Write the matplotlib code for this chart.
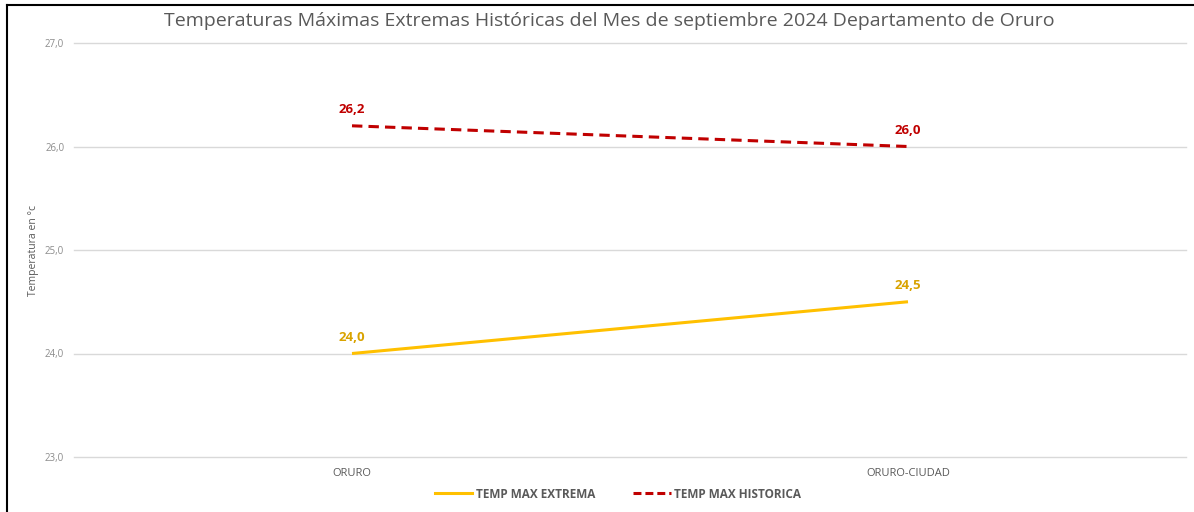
import matplotlib
matplotlib.use("Agg")
import matplotlib.pyplot as plt
from matplotlib.lines import Line2D

estaciones = ["ORURO", "ORURO-CIUDAD"]
temp_extrema = [24.0, 24.5]
temp_historica = [26.2, 26.0]
y_ticks = [23.0, 24.0, 25.0, 26.0, 27.0]

plt.rcParams['font.family'] = ['Open Sans', 'DejaVu Sans']

fig = plt.figure(figsize=(11.94, 5.12), dpi=100)
ax = fig.add_axes([74 / 1194, 1 - 457 / 512, 1112 / 1194, (457 - 43) / 512])

x = list(range(len(estaciones)))
ax.plot(x, temp_extrema, color='#FFC000', lw=2.2, solid_capstyle='butt',
        label='TEMP MAX EXTREMA')
ax.plot(x, temp_historica, color='#C00000', lw=2.2, ls=(0, (3.4, 2.0)),
        label='TEMP MAX HISTORICA')

for xi, v in zip(x, temp_extrema):
    ax.annotate(f"{v:.1f}".replace('.', ','), (xi, v), xytext=(0, 7),
                textcoords='offset points', ha='center', va='bottom',
                color='#D9A300', fontsize=9.5, fontweight='bold')
for xi, v in zip(x, temp_historica):
    ax.annotate(f"{v:.1f}".replace('.', ','), (xi, v), xytext=(0, 7),
                textcoords='offset points', ha='center', va='bottom',
                color='#C00000', fontsize=9.5, fontweight='bold')

ax.set_xlim(-0.5, len(estaciones) - 0.5)
ax.set_ylim(23, 27)
ax.set_yticks(y_ticks)
ax.set_yticklabels([f"{t:.1f}".replace('.', ',') for t in y_ticks])
ax.set_xticks(x)
ax.set_xticklabels(estaciones)
ax.grid(axis='y', color='#D9D9D9', lw=1)
for gl in ax.get_ygridlines():
    gl.set_clip_on(False)
ax.set_axisbelow(True)
for s in ax.spines.values():
    s.set_visible(False)
ax.tick_params(axis='both', length=0, colors='#8C8C8C', labelsize=7)
ax.tick_params(axis='x', pad=8, colors='#595959', labelsize=8)
ax.tick_params(axis='y', pad=7)
ax.set_ylabel('Temperatura en °c', fontsize=7.5, color='#595959', labelpad=4)

fig.text(609 / 1194, 1 - 21 / 512,
         'Temperaturas Máximas Extremas Históricas del Mes de septiembre 2024 Departamento de Oruro',
         ha='center', va='center', fontsize=14, color='#595959')

leg = fig.legend(handles=[
    Line2D([], [], color='#FFC000', lw=2.2),
    Line2D([], [], color='#C00000', lw=2.2, ls=(0, (2.6, 1.3))),
], labels=['TEMP MAX EXTREMA', 'TEMP MAX HISTORICA'],
    loc='center', bbox_to_anchor=(618 / 1194, 1 - 494 / 512), ncol=2,
    frameon=False, fontsize=8.5, handlelength=3.2, columnspacing=3.2,
    handletextpad=0.3)
for t in leg.get_texts():
    t.set_color('#595959')
    t.set_fontweight('bold')

# marco superior e izquierdo
fig.add_artist(Line2D([7 / 1194, 7 / 1194], [0, 1 - 4.5 / 512], color='black', lw=1.5))
fig.add_artist(Line2D([7 / 1194, 1], [1 - 4.5 / 512, 1 - 4.5 / 512], color='black', lw=1.5))

fig.savefig('out.png', dpi=100)
